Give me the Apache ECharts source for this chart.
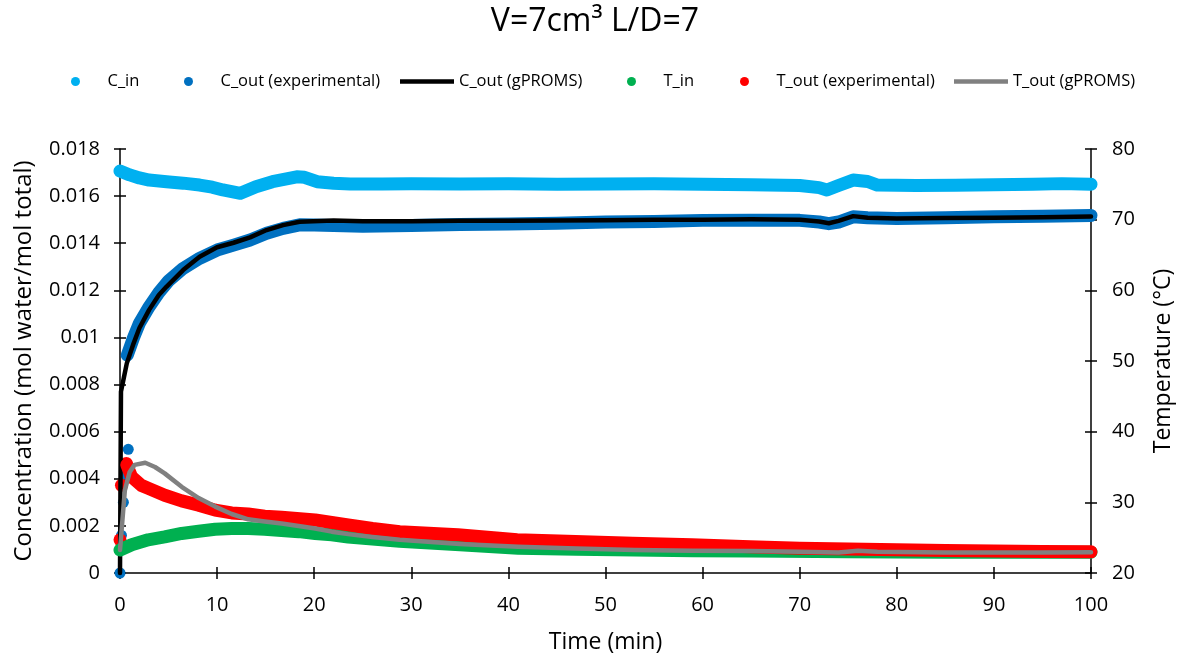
<!DOCTYPE html>
<html>
<head>
<meta charset="utf-8">
<script src="https://cdn.jsdelivr.net/npm/echarts@6/dist/echarts.min.js"></script>
<style>html,body{margin:0;padding:0;background:#fff}#chart{width:1190px;height:661px}</style>
</head>
<body>
<div id="chart"></div>
<script>
// ---- data ----
const chartTitle = 'V=7cm\u00B3 L/D=7';
const xTicks = [0,10,20,30,40,50,60,70,80,90,100];
const concTicks = [0,0.002,0.004,0.006,0.008,0.01,0.012,0.014,0.016,0.018];
const tempTicks = [20,30,40,50,60,70,80];

const cInTime = [0,1,2,3,4.8,6.5,8.2,9.5,10.6,12.4,14,15.7,18.2,19,20.3,22,23.7,27,30,35,40,45,50,55,60,65,70,72,72.8,74,75.5,77,78,82,86,90,94,97,100];
const cInValues = [0.01707,0.0169,0.01677,0.01668,0.01661,0.01655,0.01647,0.01638,0.01626,0.01612,0.0164,0.01661,0.01682,0.0168,0.01661,0.01655,0.01651,0.01651,0.01652,0.01651,0.01652,0.0165,0.01651,0.01652,0.0165,0.01648,0.01645,0.01636,0.01626,0.01645,0.01668,0.01662,0.01647,0.01645,0.01646,0.01648,0.0165,0.01653,0.0165];

const cOutExpDotTime = [0,0.15,0.35,0.55,0.85];
const cOutExpDotValues = [0,0.0016,0.0030,0.0042,0.00525];
const cOutExpTime = [0.75,1.4,2,3,4,5,6.5,8.2,10,11.7,13.4,15.1,16.8,18.5,20,22,25,30,35,40,45,50,55,60,65,70,72,73,74,75.5,77,80,85,90,95,100];
const cOutExpValues = [0.00925,0.0100,0.0106,0.0113,0.0119,0.0124,0.01293,0.01336,0.01371,0.01392,0.01414,0.01442,0.01463,0.01478,0.01477,0.01475,0.01472,0.01475,0.0148,0.01482,0.01485,0.0149,0.01492,0.01497,0.01498,0.01497,0.0149,0.01483,0.0149,0.01512,0.01508,0.01505,0.01508,0.01512,0.01515,0.01518];

const cOutModelTime = [0,0.1,0.4,0.7,1.4,2,3,4,4.8,6.5,8.2,10,11.7,13.4,15.1,16.8,18.5,22,25,30,35,40,45,50,55,60,65,70,72,73,74,75.5,77,80,85,90,95,100];
const cOutModelValues = [0,0.0077,0.0083,0.0089,0.00975,0.0104,0.01117,0.0118,0.01216,0.01286,0.01343,0.01383,0.01402,0.01425,0.01456,0.01477,0.01491,0.01496,0.01493,0.01493,0.01495,0.01495,0.01496,0.01498,0.015,0.015,0.01502,0.015,0.01492,0.01485,0.01495,0.01515,0.01508,0.01505,0.01507,0.01508,0.0151,0.01513];

const tInTime = [0,1.2,2.9,4.6,6.35,8.1,9.8,11.5,13.2,14.9,16.65,18.4,20.1,21.8,23.5,26,28.8,35,41,47,53,59,65,75,85,100];
const tInValues = [23.25,24.0,24.7,25.1,25.6,25.9,26.2,26.3,26.3,26.2,26.0,25.85,25.6,25.4,25.1,24.8,24.5,24.0,23.5,23.35,23.25,23.15,23.1,23.0,22.95,22.95];

const tOutExpDotTime = [0,0.15,0.65];
const tOutExpDotValues = [24.7,32.4,35.5];
const tOutExpTime = [0.7,1.2,2.2,2.9,4.6,6.35,8.1,9.8,11.5,13.2,14.9,16.65,20.1,23.5,26,28.8,34.8,40.9,46.9,52.8,58.9,64.9,70,75,80,85,90,95,100];
const tOutExpValues = [35.3,33.6,32.4,32.0,31.0,30.2,29.6,28.9,28.5,28.35,28.05,27.9,27.5,26.8,26.3,25.85,25.4,24.7,24.45,24.2,24.0,23.7,23.5,23.4,23.3,23.2,23.1,23.05,23.0];

const tOutModelTime = [0,0.25,0.5,1.0,1.5,2.6,3.6,4.6,6.35,8.1,9.8,11.5,13.2,14.9,16.65,18.4,20.1,21.8,23.5,26,28.8,35,41,47,53,59,65,70,74,76,78,85,90,95,100];
const tOutModelValues = [23.25,27.5,31.7,34.3,35.3,35.6,35.0,34.1,32.2,30.6,29.4,28.35,27.6,27.3,27.0,26.65,26.3,25.85,25.5,25.1,24.7,24.1,23.7,23.45,23.25,23.15,23.1,23.0,22.9,23.15,23.0,22.9,22.9,22.9,22.95];

const seriesNames = ['C_in','C_out (experimental)','C_out (gPROMS)','T_in','T_out (experimental)','T_out (gPROMS)'];
const seriesColors = ['#00B0F0','#0070C0','#000000','#00B050','#FF0000','#808080'];

// ---- build ----
const zip = (t, v) => t.map((x, i) => [x, v[i]]);
const FONT = '"Open Sans", sans-serif';
const BAND = 13;

function band(name, color, t, v, yIdx) {
  return { name, type: 'line', xAxisIndex: 0, yAxisIndex: yIdx, data: zip(t, v), symbol: 'none',
    clip: false, silent: true, animation: false, itemStyle: { color },
    lineStyle: { color, width: BAND, cap: 'round', join: 'round' } };
}
function dots(name, color, t, v, yIdx, size) {
  return { name, type: 'scatter', xAxisIndex: 0, yAxisIndex: yIdx, data: zip(t, v), symbol: 'circle',
    symbolSize: size, clip: false, silent: true, animation: false, itemStyle: { color, opacity: 1 } };
}
function model(name, color, t, v, yIdx) {
  return { name, type: 'line', xAxisIndex: 0, yAxisIndex: yIdx, data: zip(t, v), symbol: 'none',
    clip: false, silent: true, animation: false, itemStyle: { color },
    lineStyle: { color, width: 4.5, cap: 'round', join: 'round' } };
}

const axisText = () => ({ color: '#000', fontFamily: FONT, fontSize: 20 });
const mainLine = () => ({ show: true, onZero: false, lineStyle: { color: '#000', width: 1.5 } });
const noLine = () => ({ show: false, onZero: false });
const tickStyle = () => ({ color: '#000', width: 1.5 });
const nameStyle = (s) => ({ fontFamily: FONT, fontSize: s, color: '#000' });
const lineIcon = 'path://M0,0 L54,0 L54,4.5 L0,4.5 Z';

// one legend per entry so each key sits where the reference has it
const legendLeft = [71, 184, 400, 627, 740, 954];
const legendIcons = ['circle', 'circle', lineIcon, 'circle', 'circle', lineIcon];
const legends = seriesNames.map((n, i) => ({
  top: 73, left: legendLeft[i], padding: 0, itemWidth: 54, itemHeight: 9, itemGap: 0,
  selectedMode: false,
  textStyle: { fontFamily: FONT, fontSize: 16.5, color: '#000' },
  data: [{ name: n, icon: legendIcons[i] }]
}));

const option = {
  backgroundColor: '#fff',
  animation: false,
  title: { text: chartTitle, left: 'center', top: 1,
    textStyle: { fontFamily: FONT, fontSize: 32, fontWeight: 'normal', color: '#000' } },
  legend: legends,
  grid: { left: 120, right: 99, top: 149, bottom: 88, containLabel: false },
  xAxis: [
    { type: 'value', min: 0, max: 100, interval: 10, position: 'bottom',
      name: 'Time (min)', nameLocation: 'middle', nameGap: 58, nameTextStyle: nameStyle(23),
      axisLine: mainLine(), axisTick: { show: true, length: 6, lineStyle: tickStyle() },
      axisLabel: Object.assign({ margin: 22, formatter: v => xTicks.includes(v) ? String(v) : '' }, axisText()),
      splitLine: { show: false } },
    { type: 'value', min: 0, max: 100, interval: 10, position: 'bottom',
      axisLine: noLine(), axisTick: { show: true, inside: true, length: 6, lineStyle: tickStyle() },
      axisLabel: { show: false }, splitLine: { show: false } }
  ],
  yAxis: [
    { type: 'value', min: 0, max: 0.018, interval: 0.002, position: 'left',
      name: 'Concentration (mol water/mol total)', nameLocation: 'middle', nameGap: 84, nameRotate: 90,
      nameTextStyle: nameStyle(24),
      axisLine: mainLine(), axisTick: { show: true, length: 6, lineStyle: tickStyle() },
      axisLabel: Object.assign({ margin: 20, formatter: v => {
        const m = concTicks.find(c => Math.abs(c - v) < 1e-9); return m === undefined ? '' : String(m); } }, axisText()),
      splitLine: { show: false } },
    { type: 'value', min: 20, max: 80, interval: 10, position: 'right',
      name: 'Temperature (\u00B0C)', nameLocation: 'middle', nameGap: 61, nameRotate: 90,
      nameTextStyle: nameStyle(23),
      axisLine: mainLine(), axisTick: { show: true, length: 6, lineStyle: tickStyle() },
      axisLabel: Object.assign({ margin: 21, formatter: v => tempTicks.includes(v) ? String(v) : '' }, axisText()),
      splitLine: { show: false } },
    { type: 'value', min: 0, max: 0.018, interval: 0.002, position: 'left',
      axisLine: noLine(), axisTick: { show: true, inside: true, length: 6, lineStyle: tickStyle() },
      axisLabel: { show: false }, splitLine: { show: false } },
    { type: 'value', min: 20, max: 80, interval: 10, position: 'right',
      axisLine: noLine(), axisTick: { show: true, inside: true, length: 6, lineStyle: tickStyle() },
      axisLabel: { show: false }, splitLine: { show: false } }
  ],
  series: [
    band(seriesNames[0], seriesColors[0], cInTime, cInValues, 0),
    band(seriesNames[1], seriesColors[1], cOutExpTime, cOutExpValues, 0),
    model(seriesNames[2], seriesColors[2], cOutModelTime, cOutModelValues, 0),
    dots(seriesNames[1], seriesColors[1], cOutExpDotTime, cOutExpDotValues, 0, 11),
    band(seriesNames[3], seriesColors[3], tInTime, tInValues, 1),
    dots(seriesNames[4], seriesColors[4], tOutExpDotTime, tOutExpDotValues, 1, 13),
    band(seriesNames[4], seriesColors[4], tOutExpTime, tOutExpValues, 1),
    model(seriesNames[5], seriesColors[5], tOutModelTime, tOutModelValues, 1)
  ]
};

const chart = echarts.init(document.getElementById('chart'), null, { renderer: 'canvas' });
chart.setOption(option);
</script>
</body>
</html>
